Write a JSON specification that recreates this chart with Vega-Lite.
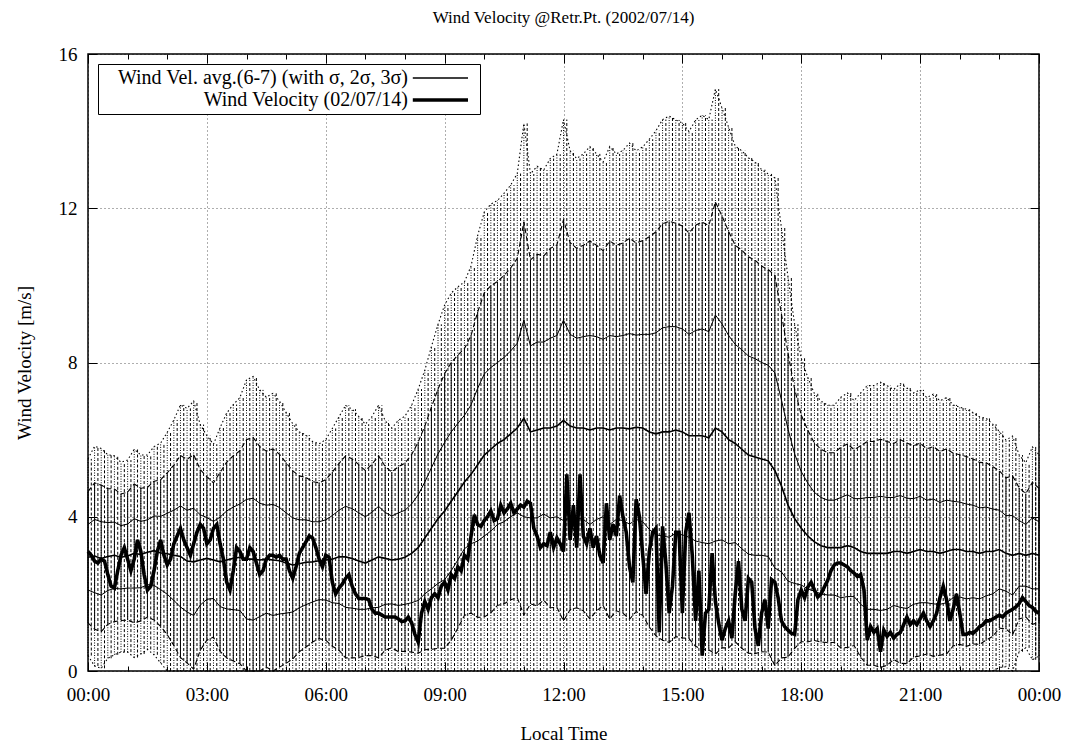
{
  "$schema": "https://vega.github.io/schema/vega-lite/v6.json",
  "width": 951,
  "height": 617,
  "autosize": {"type": "none"},
  "padding": {"left": 88, "top": 54, "right": 36, "bottom": 77},
  "background": "white",
  "title": {"text": "Wind Velocity @Retr.Pt. (2002/07/14)", "font": "Liberation Serif", "fontSize": 17, "fontWeight": "normal", "color": "black", "offset": 18},
  "config": {
    "font": "Liberation Serif",
    "view": {"stroke": "black", "strokeWidth": 1.5},
    "axis": {
      "labelFont": "Liberation Serif", "labelFontSize": 19, "labelColor": "black",
      "titleFont": "Liberation Serif", "titleFontSize": 19, "titleFontWeight": "normal", "titleColor": "black",
      "gridColor": "black", "gridDash": [1, 3], "gridWidth": 0.8,
      "domain": false, "tickColor": "black", "tickWidth": 1
    }
  },
  "resolve": {"axis": {"x": "independent", "y": "independent"}},
  "datasets": {
    "avg": [
      {"min":0,"m":2.95,"s":0.85,"s2":1.7,"s3":2.55},
      {"min":10,"m":2.98,"s":0.95,"s2":1.9,"s3":2.85},
      {"min":20,"m":2.92,"s":0.95,"s2":1.9,"s3":2.85},
      {"min":30,"m":2.97,"s":0.88,"s2":1.76,"s3":2.64},
      {"min":40,"m":3.0,"s":0.86,"s2":1.72,"s3":2.58},
      {"min":50,"m":2.95,"s":0.82,"s2":1.64,"s3":2.46},
      {"min":60,"m":2.98,"s":0.83,"s2":1.66,"s3":2.49},
      {"min":70,"m":3.05,"s":0.9,"s2":1.8,"s3":2.7},
      {"min":80,"m":3.02,"s":0.86,"s2":1.72,"s3":2.58},
      {"min":90,"m":3.08,"s":0.84,"s2":1.68,"s3":2.52},
      {"min":100,"m":3.12,"s":0.9,"s2":1.8,"s3":2.7},
      {"min":110,"m":3.06,"s":0.95,"s2":1.9,"s3":2.85},
      {"min":120,"m":3.04,"s":1.05,"s2":2.1,"s3":3.15},
      {"min":130,"m":3.0,"s":1.17,"s2":2.34,"s3":3.51},
      {"min":140,"m":2.97,"s":1.31,"s2":2.62,"s3":3.93},
      {"min":150,"m":2.85,"s":1.32,"s2":2.64,"s3":3.96},
      {"min":160,"m":2.83,"s":1.39,"s2":2.78,"s3":4.17},
      {"min":170,"m":2.88,"s":1.17,"s2":2.34,"s3":3.51},
      {"min":180,"m":2.92,"s":1.06,"s2":2.12,"s3":3.18},
      {"min":190,"m":2.88,"s":1.0,"s2":2.0,"s3":3.0},
      {"min":200,"m":2.83,"s":1.16,"s2":2.32,"s3":3.48},
      {"min":210,"m":2.88,"s":1.27,"s2":2.54,"s3":3.81},
      {"min":220,"m":2.92,"s":1.33,"s2":2.66,"s3":3.99},
      {"min":230,"m":2.95,"s":1.38,"s2":2.76,"s3":4.14},
      {"min":240,"m":2.9,"s":1.55,"s2":3.1,"s3":4.65},
      {"min":250,"m":2.9,"s":1.58,"s2":3.16,"s3":4.74},
      {"min":260,"m":2.88,"s":1.47,"s2":2.94,"s3":4.41},
      {"min":270,"m":2.9,"s":1.4,"s2":2.8,"s3":4.2},
      {"min":280,"m":2.88,"s":1.44,"s2":2.88,"s3":4.32},
      {"min":290,"m":2.86,"s":1.38,"s2":2.76,"s3":4.14},
      {"min":300,"m":2.8,"s":1.3,"s2":2.6,"s3":3.9},
      {"min":310,"m":2.75,"s":1.22,"s2":2.44,"s3":3.66},
      {"min":320,"m":2.78,"s":1.14,"s2":2.28,"s3":3.42},
      {"min":330,"m":2.82,"s":1.1,"s2":2.2,"s3":3.3},
      {"min":340,"m":2.83,"s":1.04,"s2":2.08,"s3":3.12},
      {"min":350,"m":2.86,"s":1.01,"s2":2.02,"s3":3.03},
      {"min":360,"m":2.88,"s":1.04,"s2":2.08,"s3":3.12},
      {"min":370,"m":2.9,"s":1.13,"s2":2.26,"s3":3.39},
      {"min":380,"m":2.96,"s":1.21,"s2":2.42,"s3":3.63},
      {"min":390,"m":2.96,"s":1.31,"s2":2.62,"s3":3.93},
      {"min":400,"m":2.92,"s":1.29,"s2":2.58,"s3":3.87},
      {"min":410,"m":2.85,"s":1.25,"s2":2.5,"s3":3.75},
      {"min":420,"m":2.8,"s":1.2,"s2":2.4,"s3":3.6},
      {"min":430,"m":2.88,"s":1.24,"s2":2.48,"s3":3.72},
      {"min":440,"m":2.96,"s":1.31,"s2":2.62,"s3":3.93},
      {"min":450,"m":2.92,"s":1.19,"s2":2.38,"s3":3.57},
      {"min":460,"m":2.88,"s":1.14,"s2":2.28,"s3":3.42},
      {"min":470,"m":2.9,"s":1.2,"s2":2.4,"s3":3.6},
      {"min":480,"m":2.95,"s":1.22,"s2":2.44,"s3":3.66},
      {"min":490,"m":3.05,"s":1.28,"s2":2.56,"s3":3.84},
      {"min":500,"m":3.2,"s":1.37,"s2":2.74,"s3":4.11},
      {"min":510,"m":3.45,"s":1.45,"s2":2.9,"s3":4.35},
      {"min":520,"m":3.7,"s":1.57,"s2":3.14,"s3":4.71},
      {"min":530,"m":3.95,"s":1.68,"s2":3.36,"s3":5.04},
      {"min":540,"m":4.15,"s":1.78,"s2":3.56,"s3":5.34},
      {"min":550,"m":4.4,"s":1.8,"s2":3.6,"s3":5.4},
      {"min":560,"m":4.65,"s":1.77,"s2":3.54,"s3":5.31},
      {"min":570,"m":4.9,"s":1.73,"s2":3.46,"s3":5.19},
      {"min":580,"m":5.1,"s":1.8,"s2":3.6,"s3":5.4},
      {"min":590,"m":5.35,"s":1.98,"s2":3.96,"s3":5.94},
      {"min":600,"m":5.6,"s":2.1,"s2":4.2,"s3":6.3},
      {"min":610,"m":5.75,"s":2.12,"s2":4.24,"s3":6.36},
      {"min":620,"m":5.9,"s":2.1,"s2":4.2,"s3":6.3},
      {"min":630,"m":6.0,"s":2.13,"s2":4.26,"s3":6.39},
      {"min":640,"m":6.15,"s":2.15,"s2":4.3,"s3":6.45},
      {"min":650,"m":6.3,"s":2.2,"s2":4.4,"s3":6.6},
      {"min":660,"m":6.55,"s":2.55,"s2":5.1,"s3":7.65},
      {"min":670,"m":6.2,"s":2.23,"s2":4.46,"s3":6.69},
      {"min":680,"m":6.25,"s":2.28,"s2":4.56,"s3":6.84},
      {"min":690,"m":6.3,"s":2.23,"s2":4.46,"s3":6.69},
      {"min":700,"m":6.3,"s":2.33,"s2":4.66,"s3":6.99},
      {"min":710,"m":6.35,"s":2.35,"s2":4.7,"s3":7.05},
      {"min":720,"m":6.5,"s":2.6,"s2":5.2,"s3":7.8},
      {"min":730,"m":6.35,"s":2.38,"s2":4.76,"s3":7.14},
      {"min":740,"m":6.3,"s":2.33,"s2":4.66,"s3":6.99},
      {"min":750,"m":6.3,"s":2.37,"s2":4.74,"s3":7.11},
      {"min":760,"m":6.25,"s":2.45,"s2":4.9,"s3":7.35},
      {"min":770,"m":6.3,"s":2.37,"s2":4.74,"s3":7.11},
      {"min":780,"m":6.3,"s":2.3,"s2":4.6,"s3":6.9},
      {"min":790,"m":6.25,"s":2.45,"s2":4.9,"s3":7.35},
      {"min":800,"m":6.3,"s":2.37,"s2":4.74,"s3":7.11},
      {"min":810,"m":6.3,"s":2.4,"s2":4.8,"s3":7.2},
      {"min":820,"m":6.28,"s":2.47,"s2":4.94,"s3":7.41},
      {"min":830,"m":6.32,"s":2.39,"s2":4.78,"s3":7.17},
      {"min":840,"m":6.3,"s":2.43,"s2":4.86,"s3":7.29},
      {"min":850,"m":6.2,"s":2.53,"s2":5.06,"s3":7.59},
      {"min":860,"m":6.15,"s":2.62,"s2":5.24,"s3":7.86},
      {"min":870,"m":6.2,"s":2.7,"s2":5.4,"s3":8.1},
      {"min":880,"m":6.2,"s":2.73,"s2":5.46,"s3":8.19},
      {"min":890,"m":6.25,"s":2.68,"s2":5.36,"s3":8.04},
      {"min":900,"m":6.2,"s":2.67,"s2":5.34,"s3":8.01},
      {"min":910,"m":6.1,"s":2.63,"s2":5.26,"s3":7.89},
      {"min":920,"m":6.1,"s":2.73,"s2":5.46,"s3":8.19},
      {"min":930,"m":6.1,"s":2.77,"s2":5.54,"s3":8.31},
      {"min":940,"m":6.05,"s":2.75,"s2":5.5,"s3":8.25},
      {"min":950,"m":6.3,"s":2.93,"s2":5.86,"s3":8.79},
      {"min":960,"m":6.2,"s":2.8,"s2":5.6,"s3":8.4},
      {"min":970,"m":6.0,"s":2.7,"s2":5.4,"s3":8.1},
      {"min":980,"m":5.9,"s":2.57,"s2":5.14,"s3":7.71},
      {"min":990,"m":5.75,"s":2.58,"s2":5.16,"s3":7.74},
      {"min":1000,"m":5.6,"s":2.57,"s2":5.14,"s3":7.71},
      {"min":1010,"m":5.55,"s":2.55,"s2":5.1,"s3":7.65},
      {"min":1020,"m":5.5,"s":2.5,"s2":5.0,"s3":7.5},
      {"min":1030,"m":5.45,"s":2.48,"s2":4.96,"s3":7.44},
      {"min":1040,"m":5.2,"s":2.53,"s2":5.06,"s3":7.59},
      {"min":1050,"m":4.8,"s":2.23,"s2":4.46,"s3":6.69},
      {"min":1060,"m":4.3,"s":1.97,"s2":3.94,"s3":5.91},
      {"min":1070,"m":3.95,"s":1.68,"s2":3.36,"s3":5.04},
      {"min":1080,"m":3.7,"s":1.47,"s2":2.94,"s3":4.41},
      {"min":1090,"m":3.5,"s":1.37,"s2":2.74,"s3":4.11},
      {"min":1100,"m":3.35,"s":1.28,"s2":2.56,"s3":3.84},
      {"min":1110,"m":3.25,"s":1.25,"s2":2.5,"s3":3.75},
      {"min":1120,"m":3.2,"s":1.23,"s2":2.46,"s3":3.69},
      {"min":1130,"m":3.2,"s":1.23,"s2":2.46,"s3":3.69},
      {"min":1140,"m":3.2,"s":1.3,"s2":2.6,"s3":3.9},
      {"min":1150,"m":3.25,"s":1.32,"s2":2.64,"s3":3.96},
      {"min":1160,"m":3.2,"s":1.27,"s2":2.54,"s3":3.81},
      {"min":1170,"m":3.1,"s":1.37,"s2":2.74,"s3":4.11},
      {"min":1180,"m":3.05,"s":1.45,"s2":2.9,"s3":4.35},
      {"min":1190,"m":3.05,"s":1.45,"s2":2.9,"s3":4.35},
      {"min":1200,"m":3.05,"s":1.48,"s2":2.96,"s3":4.44},
      {"min":1210,"m":3.05,"s":1.45,"s2":2.9,"s3":4.35},
      {"min":1220,"m":3.1,"s":1.4,"s2":2.8,"s3":4.2},
      {"min":1230,"m":3.1,"s":1.45,"s2":2.9,"s3":4.35},
      {"min":1240,"m":3.05,"s":1.43,"s2":2.86,"s3":4.29},
      {"min":1250,"m":3.1,"s":1.37,"s2":2.74,"s3":4.11},
      {"min":1260,"m":3.15,"s":1.38,"s2":2.76,"s3":4.14},
      {"min":1270,"m":3.1,"s":1.33,"s2":2.66,"s3":3.99},
      {"min":1280,"m":3.1,"s":1.36,"s2":2.72,"s3":4.08},
      {"min":1290,"m":3.05,"s":1.32,"s2":2.64,"s3":3.96},
      {"min":1300,"m":3.1,"s":1.33,"s2":2.66,"s3":3.99},
      {"min":1310,"m":3.15,"s":1.25,"s2":2.5,"s3":3.75},
      {"min":1320,"m":3.15,"s":1.23,"s2":2.46,"s3":3.69},
      {"min":1330,"m":3.1,"s":1.23,"s2":2.46,"s3":3.69},
      {"min":1340,"m":3.1,"s":1.2,"s2":2.4,"s3":3.6},
      {"min":1350,"m":3.05,"s":1.18,"s2":2.36,"s3":3.54},
      {"min":1360,"m":3.1,"s":1.15,"s2":2.3,"s3":3.45},
      {"min":1370,"m":3.1,"s":1.1,"s2":2.2,"s3":3.3},
      {"min":1380,"m":3.15,"s":1.02,"s2":2.04,"s3":3.06},
      {"min":1390,"m":3.05,"s":0.98,"s2":1.96,"s3":2.94},
      {"min":1400,"m":3.0,"s":1.03,"s2":2.06,"s3":3.09},
      {"min":1410,"m":3.05,"s":0.85,"s2":1.7,"s3":2.55},
      {"min":1420,"m":3.0,"s":0.8,"s2":1.6,"s3":2.4},
      {"min":1430,"m":3.05,"s":0.92,"s2":1.84,"s3":2.76},
      {"min":1440,"m":3.0,"s":0.87,"s2":1.74,"s3":2.61}
    ],
    "wind": [
      {"min":0,"w":3.1},{"min":5,"w":3.0},{"min":10,"w":2.85},{"min":15,"w":2.8},{"min":20,"w":2.9},{"min":25,"w":2.85},
      {"min":30,"w":2.5},{"min":35,"w":2.2},{"min":40,"w":2.15},{"min":45,"w":2.6},{"min":50,"w":3.0},{"min":55,"w":3.2},
      {"min":60,"w":2.9},{"min":65,"w":2.6},{"min":70,"w":2.9},{"min":75,"w":3.4},{"min":80,"w":3.1},{"min":85,"w":2.5},
      {"min":90,"w":2.1},{"min":95,"w":2.2},{"min":100,"w":2.6},{"min":105,"w":3.1},{"min":110,"w":3.4},{"min":115,"w":3.0},
      {"min":120,"w":2.75},{"min":125,"w":2.9},{"min":130,"w":3.3},{"min":135,"w":3.5},{"min":140,"w":3.7},{"min":145,"w":3.4},
      {"min":150,"w":3.2},{"min":155,"w":3.0},{"min":160,"w":3.3},{"min":165,"w":3.6},{"min":170,"w":3.8},{"min":175,"w":3.7},
      {"min":180,"w":3.3},{"min":185,"w":3.4},{"min":190,"w":3.7},{"min":195,"w":3.8},{"min":200,"w":3.3},{"min":205,"w":2.9},
      {"min":210,"w":2.3},{"min":215,"w":2.1},{"min":220,"w":2.6},{"min":225,"w":3.2},{"min":230,"w":3.1},{"min":235,"w":2.9},
      {"min":240,"w":2.9},{"min":245,"w":3.2},{"min":250,"w":3.1},{"min":255,"w":2.8},{"min":260,"w":2.5},{"min":265,"w":2.6},
      {"min":270,"w":2.9},{"min":275,"w":3.0},{"min":280,"w":3.0},{"min":285,"w":2.95},{"min":290,"w":3.0},{"min":295,"w":2.9},
      {"min":300,"w":2.9},{"min":305,"w":2.6},{"min":310,"w":2.4},{"min":315,"w":2.7},{"min":320,"w":3.05},{"min":325,"w":3.2},
      {"min":330,"w":3.35},{"min":335,"w":3.5},{"min":340,"w":3.45},{"min":345,"w":3.2},{"min":350,"w":2.9},{"min":355,"w":2.7},
      {"min":360,"w":3.0},{"min":365,"w":2.95},{"min":370,"w":2.3},{"min":375,"w":2.0},{"min":380,"w":2.15},{"min":385,"w":2.25},
      {"min":390,"w":2.4},{"min":395,"w":2.5},{"min":400,"w":2.2},{"min":405,"w":2.0},{"min":410,"w":1.88},{"min":415,"w":1.88},
      {"min":420,"w":1.88},{"min":425,"w":1.85},{"min":430,"w":1.6},{"min":435,"w":1.5},{"min":440,"w":1.5},{"min":445,"w":1.45},
      {"min":450,"w":1.4},{"min":455,"w":1.4},{"min":460,"w":1.4},{"min":465,"w":1.4},{"min":470,"w":1.35},{"min":475,"w":1.28},
      {"min":480,"w":1.3},{"min":485,"w":1.4},{"min":490,"w":1.25},{"min":495,"w":0.95},{"min":500,"w":0.75},{"min":505,"w":1.5},
      {"min":510,"w":1.8},{"min":515,"w":1.6},{"min":520,"w":1.9},{"min":525,"w":2.0},{"min":530,"w":1.9},{"min":535,"w":2.2},
      {"min":540,"w":2.3},{"min":545,"w":2.1},{"min":550,"w":2.5},{"min":555,"w":2.4},{"min":560,"w":2.7},{"min":565,"w":2.6},
      {"min":570,"w":3.0},{"min":575,"w":2.9},{"min":580,"w":3.5},{"min":585,"w":4.05},{"min":590,"w":3.8},{"min":595,"w":3.75},
      {"min":600,"w":3.9},{"min":605,"w":4.0},{"min":610,"w":4.15},{"min":615,"w":3.9},{"min":620,"w":3.95},{"min":625,"w":4.3},
      {"min":630,"w":4.1},{"min":635,"w":4.2},{"min":640,"w":4.35},{"min":645,"w":4.1},{"min":650,"w":4.2},{"min":655,"w":4.3},
      {"min":660,"w":4.25},{"min":665,"w":4.4},{"min":670,"w":4.35},{"min":675,"w":3.7},{"min":680,"w":3.5},{"min":685,"w":3.2},
      {"min":690,"w":3.3},{"min":695,"w":3.25},{"min":700,"w":3.6},{"min":705,"w":3.2},{"min":710,"w":3.45},{"min":715,"w":3.3},
      {"min":720,"w":3.1},{"min":725,"w":5.1},{"min":730,"w":3.4},{"min":735,"w":4.3},{"min":740,"w":3.2},{"min":745,"w":5.1},
      {"min":750,"w":3.5},{"min":755,"w":3.3},{"min":760,"w":3.7},{"min":765,"w":3.2},{"min":770,"w":3.5},{"min":775,"w":3.0},
      {"min":780,"w":2.8},{"min":785,"w":4.35},{"min":790,"w":3.4},{"min":795,"w":3.8},{"min":800,"w":3.5},{"min":805,"w":4.55},
      {"min":810,"w":4.0},{"min":815,"w":3.6},{"min":820,"w":2.7},{"min":825,"w":2.3},{"min":830,"w":4.45},{"min":835,"w":4.0},
      {"min":840,"w":3.0},{"min":845,"w":2.0},{"min":850,"w":3.1},{"min":855,"w":3.6},{"min":860,"w":3.7},{"min":865,"w":1.0},
      {"min":870,"w":3.75},{"min":875,"w":2.8},{"min":880,"w":1.5},{"min":885,"w":2.2},{"min":890,"w":3.6},{"min":895,"w":3.6},
      {"min":900,"w":1.5},{"min":905,"w":3.6},{"min":910,"w":4.1},{"min":915,"w":3.0},{"min":920,"w":1.3},{"min":925,"w":2.6},
      {"min":930,"w":0.4},{"min":935,"w":1.5},{"min":940,"w":1.6},{"min":945,"w":3.06},{"min":950,"w":1.8},{"min":955,"w":1.24},
      {"min":960,"w":0.8},{"min":965,"w":1.1},{"min":970,"w":1.3},{"min":975,"w":0.85},{"min":980,"w":2.0},{"min":985,"w":2.85},
      {"min":990,"w":1.6},{"min":995,"w":1.3},{"min":1000,"w":2.4},{"min":1005,"w":2.3},{"min":1010,"w":1.1},{"min":1015,"w":0.65},
      {"min":1020,"w":1.5},{"min":1025,"w":1.85},{"min":1030,"w":1.1},{"min":1035,"w":2.37},{"min":1040,"w":2.3},{"min":1045,"w":1.9},
      {"min":1050,"w":1.3},{"min":1055,"w":1.15},{"min":1060,"w":1.06},{"min":1065,"w":0.98},{"min":1070,"w":0.95},{"min":1075,"w":1.85},
      {"min":1080,"w":2.1},{"min":1085,"w":1.9},{"min":1090,"w":2.18},{"min":1095,"w":2.3},{"min":1100,"w":2.1},{"min":1105,"w":1.92},
      {"min":1110,"w":2.0},{"min":1115,"w":2.18},{"min":1120,"w":2.35},{"min":1125,"w":2.6},{"min":1130,"w":2.75},{"min":1135,"w":2.8},
      {"min":1140,"w":2.8},{"min":1145,"w":2.75},{"min":1150,"w":2.7},{"min":1155,"w":2.6},{"min":1160,"w":2.54},{"min":1165,"w":2.45},
      {"min":1170,"w":2.5},{"min":1175,"w":2.1},{"min":1180,"w":0.8},{"min":1185,"w":1.15},{"min":1190,"w":1.0},{"min":1195,"w":1.1},
      {"min":1200,"w":0.5},{"min":1205,"w":1.06},{"min":1210,"w":0.9},{"min":1215,"w":1.0},{"min":1220,"w":0.85},{"min":1225,"w":0.95},
      {"min":1230,"w":1.0},{"min":1235,"w":1.2},{"min":1240,"w":1.4},{"min":1245,"w":1.2},{"min":1250,"w":1.3},{"min":1255,"w":1.2},
      {"min":1260,"w":1.35},{"min":1265,"w":1.5},{"min":1270,"w":1.3},{"min":1275,"w":1.15},{"min":1280,"w":1.3},{"min":1285,"w":1.5},
      {"min":1290,"w":1.9},{"min":1295,"w":2.2},{"min":1300,"w":1.85},{"min":1305,"w":1.3},{"min":1310,"w":1.6},{"min":1315,"w":2.0},
      {"min":1320,"w":1.5},{"min":1325,"w":0.95},{"min":1330,"w":0.95},{"min":1335,"w":1.0},{"min":1340,"w":0.98},{"min":1345,"w":1.05},
      {"min":1350,"w":1.15},{"min":1355,"w":1.2},{"min":1360,"w":1.3},{"min":1365,"w":1.3},{"min":1370,"w":1.35},{"min":1375,"w":1.4},
      {"min":1380,"w":1.45},{"min":1385,"w":1.4},{"min":1390,"w":1.5},{"min":1395,"w":1.55},{"min":1400,"w":1.6},{"min":1405,"w":1.66},
      {"min":1410,"w":1.75},{"min":1415,"w":1.9},{"min":1420,"w":1.8},{"min":1425,"w":1.7},{"min":1430,"w":1.65},{"min":1435,"w":1.55},
      {"min":1440,"w":1.5}
    ]
  },
  "data": {"name": "avg"},
  "encoding": {
    "x": {"field": "min", "type": "quantitative", "title": "Local Time",
          "scale": {"domain": [0, 1440], "nice": false, "zero": false}, "axis": null},
    "y": {"field": "m", "type": "quantitative", "title": "Wind Velocity [m/s]",
          "scale": {"domain": [0, 16], "nice": false, "clamp": true}, "axis": null}
  },
  "layer": [
    {
      "mark": {"type": "errorbar", "color": "black", "rule": {"strokeDash": [1, 1.5], "strokeWidth": 1}},
      "encoding": {
        "x": {"field": "min", "type": "quantitative", "title": "Local Time",
              "scale": {"domain": [0, 1440], "nice": false, "zero": false},
              "axis": {"orient": "bottom",
                       "values": [0,60,120,180,240,300,360,420,480,540,600,660,720,780,840,900,960,1020,1080,1140,1200,1260,1320,1380,1440],
                       "labelExpr": "datum.value % 180 === 0 ? timeFormat(datetime(2002, 6, 14, 0, datum.value), '%H:%M') : ''",
                       "labelFlush": false, "labelPadding": 23, "titlePadding": 20,
                       "grid": true,
                       "gridOpacity": {"condition": {"test": "datum.value % 180 === 0", "value": 0.8}, "value": 0},
                       "tickSize": {"condition": {"test": "datum.value % 180 === 0", "value": -9}, "value": -5}}},
        "y": {"field": "m", "type": "quantitative", "title": "Wind Velocity [m/s]",
              "scale": {"domain": [0, 16], "nice": false, "clamp": true},
              "axis": {"orient": "left", "values": [0, 4, 8, 12, 16], "grid": true, "gridOpacity": 0.8,
                       "tickSize": -9, "labelPadding": 20, "titlePadding": 24}},
        "yError": {"field": "s3"}
      }
    },
    {
      "mark": {"type": "errorbar", "color": "black", "rule": {"strokeDash": [3, 2], "strokeWidth": 1}},
      "encoding": {
        "x": {"field": "min", "type": "quantitative", "bin": {"step": 10}, "title": "Local Time",
              "scale": {"domain": [0, 1440], "nice": false, "zero": false}, "axis": null},
        "yError": {"field": "s3"}
      }
    },
    {
      "mark": {"type": "errorbar", "color": "black", "rule": {"strokeWidth": 1}},
      "encoding": {
        "x": {"field": "min", "type": "quantitative", "title": "Local Time",
              "scale": {"domain": [0, 1440], "nice": false, "zero": false},
              "axis": {"orient": "top", "title": null, "labels": false, "grid": false,
                       "values": [0,60,120,180,240,300,360,420,480,540,600,660,720,780,840,900,960,1020,1080,1140,1200,1260,1320,1380,1440],
                       "tickSize": {"condition": {"test": "datum.value % 180 === 0", "value": -9}, "value": -5}}},
        "y": {"field": "m", "type": "quantitative", "title": "Wind Velocity [m/s]",
              "scale": {"domain": [0, 16], "nice": false, "clamp": true},
              "axis": {"orient": "right", "title": null, "labels": false, "grid": false, "values": [0, 4, 8, 12, 16], "tickSize": -9}},
        "yError": {"field": "s2"}
      }
    },
    {
      "mark": {"type": "errorband", "color": "black", "band": false, "borders": {"strokeDash": [1.5, 2.5], "strokeWidth": 1.1}},
      "encoding": {"yError": {"field": "s3"}}
    },
    {
      "mark": {"type": "errorband", "color": "black", "band": false, "borders": {"strokeDash": [5, 3], "strokeWidth": 1.1}},
      "encoding": {"yError": {"field": "s2"}}
    },
    {
      "mark": {"type": "errorband", "color": "black", "band": false, "borders": {"strokeWidth": 1}},
      "encoding": {"yError": {"field": "s"}}
    },
    {
      "mark": {"type": "line", "color": "black"},
      "encoding": {
        "strokeWidth": {
          "datum": "Wind Vel. avg.(6-7) (with σ, 2σ, 3σ)",
          "type": "nominal",
          "scale": {"domain": ["Wind Vel. avg.(6-7) (with σ, 2σ, 3σ)", "Wind Velocity (02/07/14)"], "range": [1.6, 3.6]},
          "legend": {"title": null, "orient": "top-left", "offset": 10, "symbolType": "M37.6,0H44.5", "symbolSize": 256,
                     "symbolStrokeColor": "black", "labelFont": "Liberation Serif", "labelFontSize": 20, "labelColor": "black",
                     "labelAlign": "right", "labelOffset": 286,
                     "labelLimit": 600, "fillColor": "white", "strokeColor": "black", "padding": 4, "rowPadding": 2, "cornerRadius": 0}
        }
      }
    },
    {
      "data": {"name": "wind"},
      "mark": {"type": "line", "color": "black", "strokeJoin": "miter"},
      "encoding": {
        "y": {"field": "w", "type": "quantitative", "title": "Wind Velocity [m/s]",
              "scale": {"domain": [0, 16], "nice": false, "clamp": true}, "axis": null},
        "strokeWidth": {"datum": "Wind Velocity (02/07/14)", "type": "nominal"}
      }
    }
  ]
}
